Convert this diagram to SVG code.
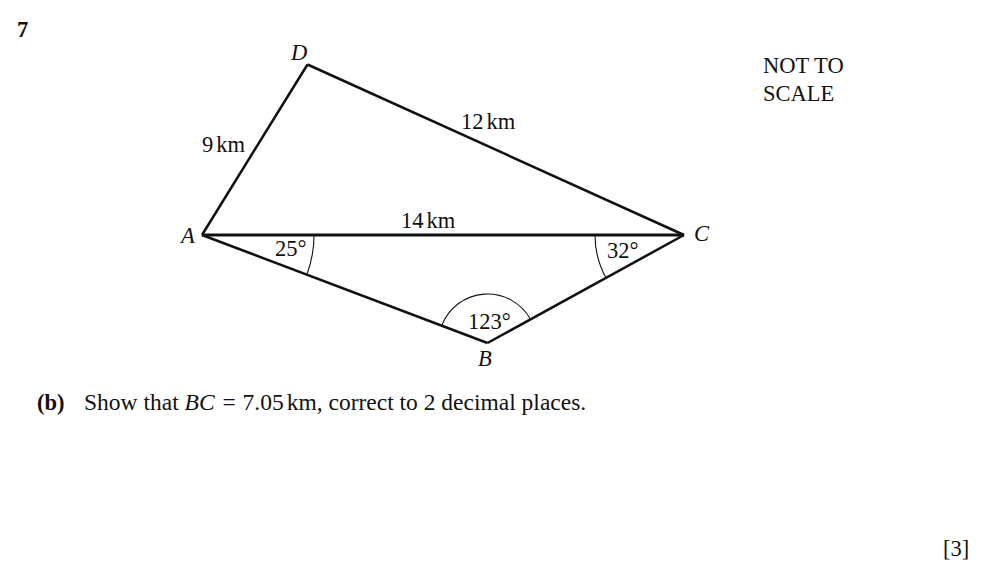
<svg xmlns="http://www.w3.org/2000/svg" width="1000" height="586" viewBox="0 0 1000 586">
<style>
text{font-family:"Liberation Serif","Times New Roman",serif;font-size:22.5px;fill:#111}
.i{font-style:italic}
.b{font-weight:bold}
.e{fill:none;stroke:#111;stroke-width:2.5;stroke-linejoin:miter}
.arc{fill:none;stroke:#111;stroke-width:1.1}
</style>
<rect width="1000" height="586" fill="#fff"/>
<text class="b" x="17" y="37">7</text>
<g id="connectors">
<path class="e" d="M202,235 L307.5,64.5"/>
<path class="e" d="M307.5,64.5 L684,235"/>
<path class="e" d="M202,235 L684,235" style="stroke-width:3.2"/>
<path class="e" d="M202,235 L487.5,343"/>
<path class="e" d="M487.5,343 L684,235"/>
<path class="arc" d="M314,235 A112,112 0 0 1 306.8,274.7"/>
<path class="arc" d="M595,235 A89,89 0 0 0 605.9,277.7"/>
<path class="arc" d="M441.7,325.8 A49,49 0 0 1 530.4,319.2"/>
</g>
<g id="node-D"><text class="i" x="291" y="60">D</text></g>
<g id="node-A"><text class="i" x="181" y="243">A</text></g>
<g id="node-C"><text class="i" x="694" y="241">C</text></g>
<g id="node-B"><text class="i" x="478" y="366">B</text></g>
<g id="labels">
<text x="202" y="152">9<tspan dx="3">km</tspan></text>
<text x="461" y="129">12<tspan dx="3">km</tspan></text>
<text x="401" y="228">14<tspan dx="3">km</tspan></text>
<text x="275" y="256">25°</text>
<text x="607" y="258">32°</text>
<text x="468" y="329">123°</text>
</g>
<text x="763" y="73">NOT TO</text>
<text x="763" y="101">SCALE</text>
<text class="b" x="37" y="410">(b)</text>
<text x="84" y="410" style="font-size:23.5px">Show that <tspan class="i">BC</tspan><tspan dx="2"> = </tspan><tspan dx="1">7.05</tspan><tspan dx="3">km</tspan>, correct to 2 decimal places.</text>
<text x="943" y="556">[3]</text>
</svg>
